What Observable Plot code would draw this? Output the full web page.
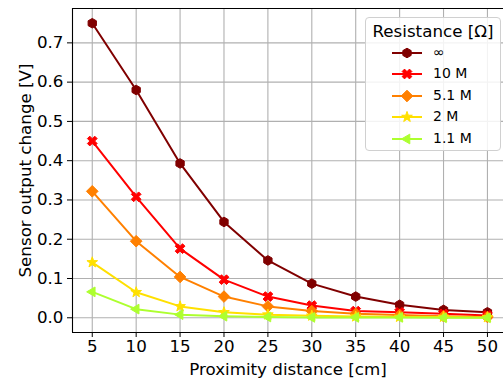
<!DOCTYPE html>
<html>
<head>
<meta charset="utf-8">
<script src="https://cdn.jsdelivr.net/npm/d3@7"></script>
<script src="https://cdn.jsdelivr.net/npm/@observablehq/plot@0.6"></script>
<style>
  html, body { margin: 0; padding: 0; background: #fff; }
  #wrap { position: relative; width: 503px; height: 380px; font-family: "DejaVu Sans", sans-serif; }
  #legend { position: absolute; left: 365px; top: 17px; width: 136px; height: 134px;
    border: 1px solid #d0d0d0; border-radius: 4px; background: rgba(255,255,255,0.85); box-sizing: border-box; }
  #legend .title { position: absolute; left: 0; width: 100%; top: 3px; text-align: center; font-size: 16.7px; color: #000; white-space: nowrap; }
  #legend .row { position: absolute; left: 0; height: 20px; width: 100%; }
  #legend .row svg { position: absolute; left: 24px; top: 0; }
  #legend .row span { position: absolute; left: 67px; top: 1px; font-size: 14px; color: #000; white-space: nowrap; }
</style>
</head>
<body>
<div id="wrap"></div>
<script>
const distances = [5, 10, 15, 20, 25, 30, 35, 40, 45, 50];
const seriesNames = ["∞", "10 M", "5.1 M", "2 M", "1.1 M"];
const vInf  = [0.750, 0.580, 0.393, 0.244, 0.146, 0.087, 0.054, 0.033, 0.020, 0.014];
const v10M  = [0.450, 0.308, 0.176, 0.097, 0.054, 0.031, 0.017, 0.014, 0.010, 0.006];
const v5_1M = [0.322, 0.195, 0.104, 0.054, 0.029, 0.017, 0.010, 0.007, 0.004, 0.002];
const v2M   = [0.141, 0.065, 0.029, 0.014, 0.008, 0.005, 0.003, 0.002, 0.002, 0.001];
const v1_1M = [0.066, 0.022, 0.008, 0.004, 0.002, 0.001, 0.001, 0.001, 0.000, 0.000];
const seriesValues = [vInf, v10M, v5_1M, v2M, v1_1M];
const seriesColors = ["#800000", "#ff0000", "#ff8000", "#ffe000", "#adff2f"];
const xTicks = [5, 10, 15, 20, 25, 30, 35, 40, 45, 50];
const yTicks = [0.0, 0.1, 0.2, 0.3, 0.4, 0.5, 0.6, 0.7];

// marker shapes (matplotlib-like)
function poly(ctx, pts) { ctx.moveTo(pts[0][0], pts[0][1]); for (let i = 1; i < pts.length; i++) ctx.lineTo(pts[i][0], pts[i][1]); ctx.closePath(); }
const hexagon = {draw(ctx) { const r = 4.8; const p = []; for (let k = 0; k < 6; k++) { const a = -Math.PI/2 + k*Math.PI/3; p.push([r*Math.cos(a), r*Math.sin(a)]); } poly(ctx, p); }};
const xFilled = {draw(ctx) { const r = 5.2, a = 1.7; const base = [[a,r],[a,a],[r,a],[r,-a],[a,-a],[a,-r],[-a,-r],[-a,-a],[-r,-a],[-r,a],[-a,a],[-a,r]];
  const c = Math.SQRT1_2; poly(ctx, base.map(([x,y]) => [(x - y)*c, (x + y)*c])); }};
const diamond = {draw(ctx) { const r = 5.8; poly(ctx, [[0,-r],[r,0],[0,r],[-r,0]]); }};
const star = {draw(ctx) { const R = 5.6, q = R*0.4; const p = []; for (let k = 0; k < 10; k++) { const a = -Math.PI/2 + k*Math.PI/5; const rr = k % 2 ? q : R; p.push([rr*Math.cos(a), rr*Math.sin(a)]); } poly(ctx, p); }};
const triLeft = {draw(ctx) { const r = 5.6; poly(ctx, [[-r,0],[r*0.5,-r*0.87],[r*0.5,r*0.87]]); }};
const seriesSymbols = [hexagon, xFilled, diamond, star, triLeft];

const data = seriesNames.flatMap((name, i) => distances.map((d, j) => ({series: name, idx: i, x: d, y: seriesValues[i][j]})));

const FS = 16.7;
const marks = [
  Plot.ruleX(xTicks, {stroke: "#b0b0b0", strokeWidth: 1.1}),
  Plot.ruleY(yTicks, {stroke: "#b0b0b0", strokeWidth: 1.1}),
  Plot.axisX(xTicks, {tickSize: 5, tickPadding: 3, fontSize: FS, tickFormat: d => String(d), label: null}),
  Plot.axisY(yTicks, {tickSize: 5, tickPadding: 4, fontSize: FS, tickFormat: d => d.toFixed(1), label: null}),
];
seriesNames.forEach((name, i) => {
  const sub = data.filter(d => d.idx === i);
  marks.push(Plot.line(sub, {x: "x", y: "y", stroke: seriesColors[i], strokeWidth: 2}));
  marks.push(Plot.dot(sub, {x: "x", y: "y", r: 5, symbol: seriesSymbols[i], fill: seriesColors[i], stroke: seriesColors[i], strokeWidth: 1}));
});
marks.push(
  Plot.ruleX([2.75], {stroke: "black", strokeWidth: 1.1}),
  Plot.ruleX([52.25], {stroke: "black", strokeWidth: 1.1}),
  Plot.ruleY([-0.0375], {stroke: "black", strokeWidth: 1.1}),
  Plot.ruleY([0.7875], {stroke: "black", strokeWidth: 1.1}),
  Plot.text(["Proximity distance [cm]"], {frameAnchor: "bottom", lineAnchor: "middle", dy: 37, fontSize: FS, fill: "black"}),
  Plot.text(["Sensor output change [V]"], {frameAnchor: "left", textAnchor: "middle", dx: -47, rotate: -90, fontSize: FS, fill: "black"})
);

const chart = Plot.plot({
  width: 503, height: 380,
  marginLeft: 72, marginRight: 0, marginTop: 8, marginBottom: 48,
  style: {fontFamily: "DejaVu Sans, sans-serif", fontSize: FS + "px", color: "black", background: "white"},
  x: {domain: [2.75, 52.25], range: [72, 506.7]},
  y: {domain: [-0.0375, 0.7875], range: [332, 8]},
  marks
});
const wrap = document.getElementById("wrap");
wrap.appendChild(chart);

// legend
const legend = document.createElement("div");
legend.id = "legend";
legend.innerHTML = '<div class="title">Resistance [Ω]</div>';
seriesNames.forEach((name, i) => {
  const row = document.createElement("div");
  row.className = "row";
  row.style.top = (24.5 + i * 21.5) + "px";
  const p = d3.path();
  seriesSymbols[i].draw(p, 0);
  row.innerHTML = `<svg width="34" height="20"><line x1="2" x2="32" y1="10" y2="10" stroke="${seriesColors[i]}" stroke-width="2"/>` +
    `<path transform="translate(17,10)" d="${p.toString()}" fill="${seriesColors[i]}" stroke="${seriesColors[i]}" stroke-width="1"/></svg><span>${name}</span>`;
  legend.appendChild(row);
});
wrap.appendChild(legend);
</script>
</body>
</html>
